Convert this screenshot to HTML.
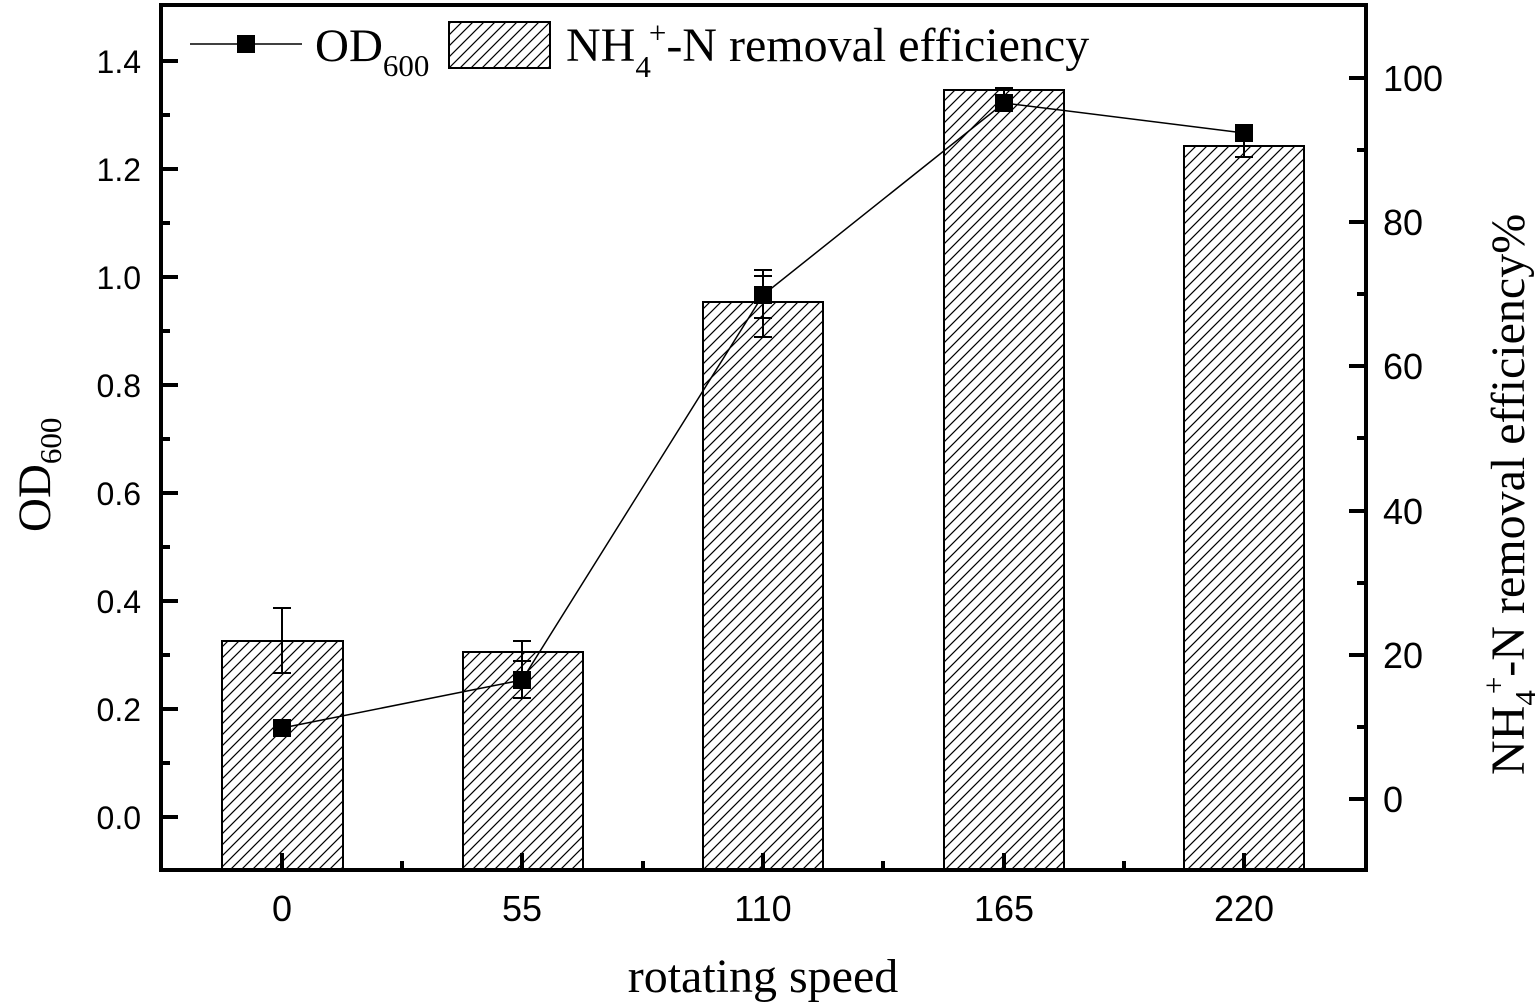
<!DOCTYPE html>
<html><head><meta charset="utf-8"><style>
html,body{margin:0;padding:0;background:#fff;}
svg{display:block;}
.s{font-family:"Liberation Sans",Arial,sans-serif;}
.r{font-family:"Liberation Serif","Times New Roman",serif;}
</style></head><body>
<svg width="1535" height="1008" viewBox="0 0 1535 1008" xmlns="http://www.w3.org/2000/svg">
<defs>
<pattern id="h" patternUnits="userSpaceOnUse" width="11" height="11">
<path d="M-2,13 L13,-2 M-2,2 L2,-2 M9,13 L13,9" stroke="#000" stroke-width="1.2"/>
</pattern>
</defs>
<rect width="1535" height="1008" fill="#fff"/>
<g stroke="#000" stroke-width="2" fill="url(#h)">
<rect x="222" y="641" width="121" height="229"/>
<rect x="463" y="652" width="120" height="218"/>
<rect x="703" y="302" width="120" height="568"/>
<rect x="944" y="90" width="120" height="780"/>
<rect x="1184" y="146" width="120" height="724"/>
</g>
<g stroke="#000" stroke-width="2" fill="none">
<path d="M282,608V673M273,608H291M273,673H291"/>
<path d="M522,641V698M513,641H531M513,698H531"/>
<path d="M763,276V337M754,276H772M754,337H772"/>
<path d="M1004,88V98M995,88H1013"/>
<path d="M1244,133V157M1235,157H1253"/>
<path d="M522,661V690M513,661H531"/>
<path d="M763,270V318M754,270H772M754,318H772"/>
<path d="M1004,90V112"/>
</g>
<polyline points="282,728 522,680 763,295 1004,103 1244,133" fill="none" stroke="#000" stroke-width="1.5"/>
<g fill="#000">
<rect x="273" y="719" width="18" height="18"/>
<rect x="513" y="671" width="18" height="18"/>
<rect x="754" y="286" width="18" height="18"/>
<rect x="995" y="94" width="18" height="18"/>
<rect x="1235" y="124" width="18" height="18"/>
</g>
<rect x="161" y="5" width="1205" height="865" fill="none" stroke="#000" stroke-width="4"/>
<g stroke="#000" stroke-width="4">
<path d="M161,61h17M161,169h17M161,277h17M161,385h17M161,493h17M161,601h17M161,709h17M161,817h17"/>
<path d="M161,115h9M161,223h9M161,331h9M161,439h9M161,547h9M161,655h9M161,763h9"/>
<path d="M1366,78h-17M1366,222h-17M1366,366h-17M1366,511h-17M1366,655h-17M1366,799h-17"/>
<path d="M1366,150h-9M1366,294h-9M1366,438h-9M1366,583h-9M1366,727h-9"/>
<path d="M282,870v-17M522,870v-17M763,870v-17M1004,870v-17M1244,870v-17"/>
<path d="M402,870v-9M643,870v-9M883,870v-9M1124,870v-9"/>
</g>
<g class="s" font-size="32" text-anchor="end" fill="#000">
<text x="141" y="73">1.4</text>
<text x="141" y="181">1.2</text>
<text x="141" y="289">1.0</text>
<text x="141" y="397">0.8</text>
<text x="141" y="505">0.6</text>
<text x="141" y="613">0.4</text>
<text x="141" y="721">0.2</text>
<text x="141" y="829">0.0</text>
</g>
<g class="s" font-size="36" fill="#000">
<text x="1383" y="91">100</text>
<text x="1383" y="235">80</text>
<text x="1383" y="379">60</text>
<text x="1383" y="524">40</text>
<text x="1383" y="668">20</text>
<text x="1383" y="812">0</text>
</g>
<g class="s" font-size="36" text-anchor="middle" fill="#000">
<text x="282" y="921">0</text>
<text x="522" y="921">55</text>
<text x="763" y="921">110</text>
<text x="1004" y="921">165</text>
<text x="1244" y="921">220</text>
</g>
<text class="r" x="763" y="992" font-size="48" text-anchor="middle">rotating speed</text>
<text class="r" transform="translate(50,532) rotate(-90)" font-size="47">OD<tspan font-size="31" dy="11">600</tspan></text>
<text class="r" transform="translate(1524,775) rotate(-90)" font-size="48">NH<tspan font-size="31" dy="12">4</tspan><tspan font-size="31" dy="-32" dx="-4">+</tspan><tspan dy="20">-N removal efficiency%</tspan></text>
<path d="M190,44H302" stroke="#000" stroke-width="1.5"/>
<rect x="237" y="35" width="18" height="18" fill="#000"/>
<text class="r" x="315" y="61" font-size="47">OD<tspan font-size="31" dy="15">600</tspan></text>
<rect x="449" y="22" width="101" height="46" fill="url(#h)" stroke="#000" stroke-width="2"/>
<text class="r" x="566" y="61" font-size="48">NH<tspan font-size="31" dy="16">4</tspan><tspan font-size="31" dy="-34" dx="-2">+</tspan><tspan dy="18">-N removal efficiency</tspan></text>
</svg>
</body></html>
